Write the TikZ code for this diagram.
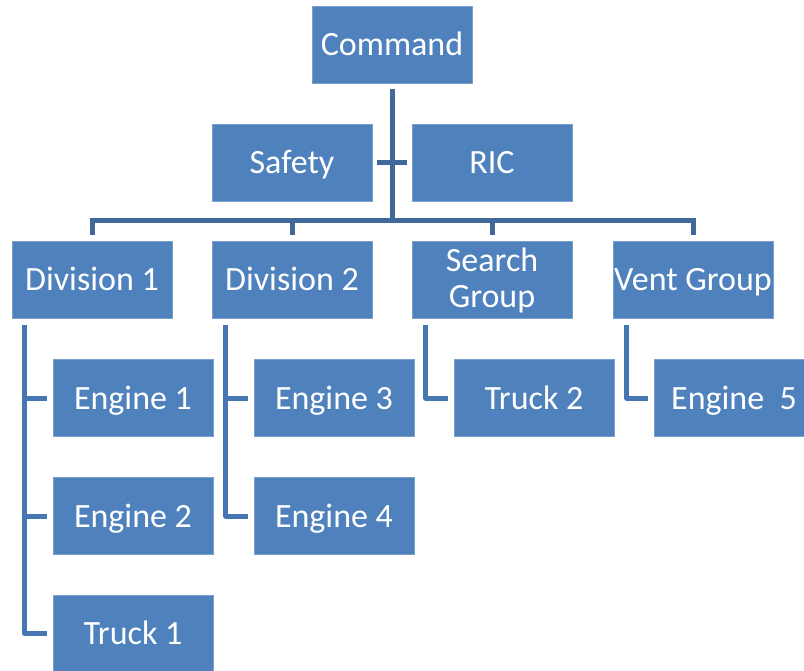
\documentclass[tikz,border=0pt]{standalone}
\usepackage{fontspec}
\setmainfont{Carlito}
\definecolor{boxblue}{HTML}{4F81BD}
\definecolor{trunkblue}{HTML}{41689A}
\definecolor{subblue}{HTML}{4777B3}
\begin{document}
\begin{tikzpicture}[x=1pt,y=-1pt,
  unit/.style={rectangle, fill=boxblue, draw=boxblue!75!white, line width=0.6pt,
    minimum width=160pt, minimum height=77pt, inner sep=0pt,
    text=white, align=center, font=\fontsize{34}{36}\selectfont,
    text height=22pt, text depth=0pt},
  twoline/.style={text height=, text depth=},
  trunk/.style={draw=trunkblue, line width=5pt, line join=miter},
  branch/.style={draw=subblue, line width=5pt, line join=round}]
\useasboundingbox (0,0) rectangle (804,671);

% boxes
\node[unit] (cmd)    at (392,45)  {Command};
\node[unit] (safety) at (292,162.5) {Safety};
\node[unit] (ric)    at (492,162.5) {RIC};
\node[unit] (div1)   at (92,280)  {Division 1};
\node[unit] (div2)   at (292,280) {Division 2};
\node[unit, twoline] (search) at (492,280) {Search\\Group};
\node[unit] (vent)   at (693,280) {Vent Group};
\node[unit] (eng1)   at (133,398) {Engine 1};
\node[unit] (eng2)   at (133,516) {Engine 2};
\node[unit] (truck1) at (133,633.5) {Truck 1};
\node[unit] (eng3)   at (334,398) {Engine 3};
\node[unit] (eng4)   at (334,516) {Engine 4};
\node[unit] (truck2) at (534,398) {Truck 2};
\node[unit] (eng5)   at (734,398) {Engine~~5};

% command trunk and staff cross-bar
\coordinate (bus) at (392,221);
\draw[trunk, shorten <=5pt] (cmd.south) -- (bus);
\draw[trunk, shorten <=5pt, shorten >=5pt] (safety.east) -- (ric.west);

% bus to the divisions and groups
\draw[trunk] ([yshift=6pt]div1.north) |- (bus) -| ([yshift=6pt]vent.north);
\draw[trunk] (div2.north |- bus) -- ([yshift=6pt]div2.north);
\draw[trunk] (search.north |- bus) -- ([yshift=6pt]search.north);

% Division 1 units
\coordinate (d1) at ([xshift=13pt]div1.south west);
\draw[branch] ([yshift=-6pt]d1) |- ([xshift=-6pt]truck1.west);
\draw[branch] (eng1.west -| d1) -- ([xshift=-6pt]eng1.west);
\draw[branch] (eng2.west -| d1) -- ([xshift=-6pt]eng2.west);

% Division 2 units
\coordinate (d2) at ([xshift=14pt]div2.south west);
\draw[branch] ([yshift=-6pt]d2) |- ([xshift=-6pt]eng4.west);
\draw[branch] (eng3.west -| d2) -- ([xshift=-6pt]eng3.west);

% Search Group unit
\coordinate (sg) at ([xshift=14pt]search.south west);
\draw[branch] ([yshift=-6pt]sg) |- ([xshift=-6pt]truck2.west);

% Vent Group unit
\coordinate (vg) at ([xshift=14pt]vent.south west);
\draw[branch] ([yshift=-6pt]vg) |- ([xshift=-6pt]eng5.west);
\end{tikzpicture}
\end{document}
